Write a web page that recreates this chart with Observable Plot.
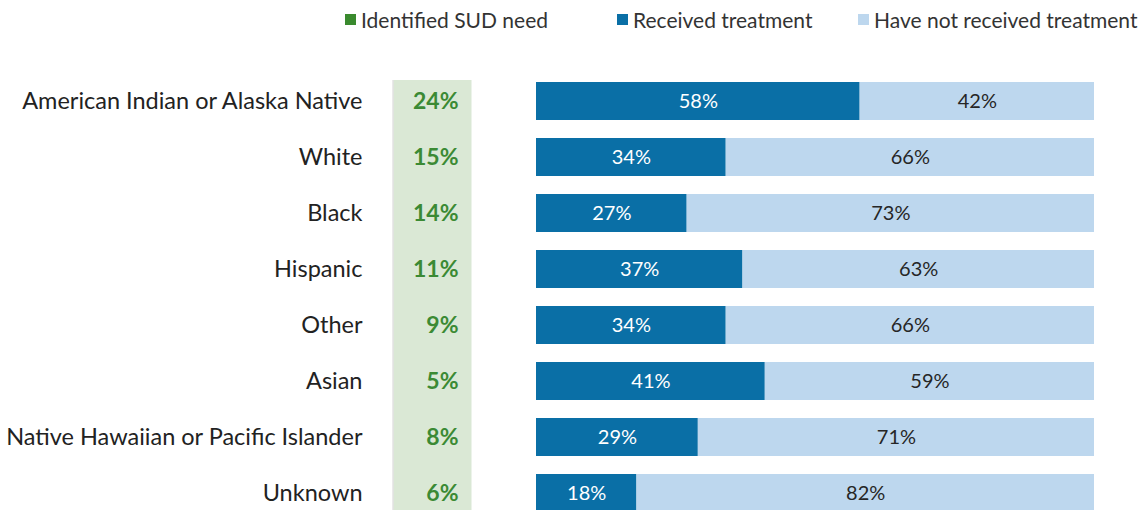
<!DOCTYPE html>
<html>
<head>
<meta charset="utf-8">
<script src="https://cdn.jsdelivr.net/npm/d3@7"></script>
<script src="https://cdn.jsdelivr.net/npm/@observablehq/plot@0.6"></script>
<style>
  html, body { margin: 0; padding: 0; background: #fff; }
  #wrap { position: relative; width: 1145px; height: 510px; overflow: hidden; font-family: Lato, "Open Sans", sans-serif; }
  #chart { position: absolute; left: 0; top: 0; }
  .leg { position: absolute; top: 7px; display: flex; align-items: center; font-size: 21px; color: #333; white-space: nowrap; }
  .sw { width: 11px; height: 11px; margin-right: 5px; }
</style>
</head>
<body>
<div id="wrap">
  <div id="chart"></div>
  <div id="legend"></div>
</div>
<script>
const categories = ["American Indian or Alaska Native", "White", "Black", "Hispanic", "Other", "Asian", "Native Hawaiian or Pacific Islander", "Unknown"];
const needPct = [24, 15, 14, 11, 9, 5, 8, 6];
const receivedPct = [58, 34, 27, 37, 34, 41, 29, 18];
const notReceivedPct = [42, 66, 73, 63, 66, 59, 71, 82];
const seriesNames = ["Received treatment", "Have not received treatment"];
const needLabel = "Identified SUD need";

const colGreenText = "#3b8a34";
const colGreenFill = "#dae8d5";
const colGreenSwatch = "#3a8a2e";
const colDark = "#0a6fa6";
const colLight = "#bdd7ee";

const needRows = categories.map((c, i) => ({cat: c, value: needPct[i]}));
const stacked = [];
categories.forEach((c, i) => {
  stacked.push({cat: c, series: seriesNames[0], value: receivedPct[i]});
  stacked.push({cat: c, series: seriesNames[1], value: notReceivedPct[i]});
});

const chart = Plot.plot({
  width: 1145,
  height: 510,
  marginLeft: 536,
  marginRight: 51,
  marginTop: 80,
  marginBottom: 0,
  x: {domain: [0, 100], axis: null},
  y: {domain: categories, range: [70.5, 523.1], paddingInner: 0.32, paddingOuter: 0.16, axis: null},
  color: {domain: seriesNames, range: [colDark, colLight]},
  style: {fontFamily: "Lato, 'Open Sans', sans-serif", background: "transparent", color: "#222"},
  marks: [
    Plot.ruleX([0], {dx: -104, stroke: colGreenFill, strokeWidth: 78}),
    Plot.ruleX([0], {dx: -143.5, stroke: "#d4d4d4", strokeWidth: 1}),
    Plot.axisY({tickSize: 0, tickPadding: 174, fontSize: 23.5, label: null}),
    Plot.text(needRows, {y: "cat", text: d => d.value + "%", frameAnchor: "left", dx: -78, textAnchor: "end", fill: colGreenText, fontWeight: "bold", fontSize: 23}),
    Plot.barX(stacked, {x: "value", y: "cat", fill: "series"}),
    Plot.text(stacked, Plot.stackX({
      x: "value", y: "cat",
      text: d => d.series === seriesNames[0] ? d.value + "%" : null,
      fill: "white", fontSize: 20
    })),
    Plot.text(stacked, Plot.stackX({
      x: "value", y: "cat",
      text: d => d.series === seriesNames[1] ? d.value + "%" : null,
      fill: "#262626", fontSize: 20
    }))
  ]
});
document.getElementById("chart").appendChild(chart);

const legendItems = [
  {label: needLabel, color: colGreenSwatch, left: 345},
  {label: seriesNames[0], color: colDark, left: 617},
  {label: seriesNames[1], color: colLight, left: 858}
];
const legend = document.getElementById("legend");
legendItems.forEach(it => {
  const d = document.createElement("div");
  d.className = "leg";
  d.style.left = it.left + "px";
  const sw = document.createElement("span");
  sw.className = "sw";
  sw.style.background = it.color;
  const t = document.createElement("span");
  t.textContent = it.label;
  d.appendChild(sw);
  d.appendChild(t);
  legend.appendChild(d);
});
</script>
</body>
</html>
